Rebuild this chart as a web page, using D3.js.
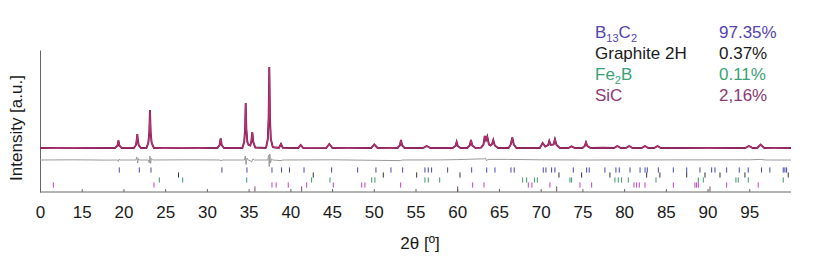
<!DOCTYPE html>
<html>
<head>
<meta charset="utf-8">
<script src="https://cdn.jsdelivr.net/npm/d3@7"></script>
<style>
  body { margin: 0; background: #fff; }
  svg text { font-family: "Liberation Sans", Arial, sans-serif; }
</style>
</head>
<body>
<svg id="chart" width="813" height="259"></svg>
<script>
// observed / calculated profile, [2theta, counts above background]
const profile = [
  [10,0],[12,10],[14,-10],[16,15],[18,0],
  [19.0,0],[19.28,220],[19.4,760],[19.52,220],[19.8,0],[20.6,15],
  [21.25,0],[21.5,300],[21.58,700],[21.66,1400],[21.74,700],[21.82,300],[22.1,0],
  [22.75,0],[22.98,500],[23.1,1600],[23.18,3800],[23.26,1600],[23.38,500],[23.65,0],
  [25,10],[27,-10],[29,10],[30.5,0],
  [31.25,0],[31.52,280],[31.65,960],[31.78,280],[32.05,0],[33.5,10],
  [34.25,0],[34.47,600],[34.58,1900],[34.65,4500],[34.73,1900],[34.85,600],[35.0,300],
  [35.2,250],[35.32,600],[35.44,1600],[35.56,600],[35.8,50],[36.5,20],[37.0,0],
  [37.1,50],[37.3,900],[37.4,3000],[37.48,8100],[37.56,3000],[37.66,900],[37.9,80],[38.4,30],
  [38.65,20],[38.88,400],[39.1,20],[40.2,0],
  [40.95,0],[41.24,300],[41.55,0],[43,-10],
  [44.3,0],[44.67,400],[45.05,0],[47,10],[49,0],
  [49.7,0],[50.06,350],[50.45,0],[52,10],
  [52.85,0],[53.12,250],[53.26,800],[53.4,250],[53.7,0],[55.5,0],
  [55.9,0],[56.34,200],[56.8,0],[58.5,0],
  [59.45,0],[59.8,200],[59.93,600],[60.06,200],[60.4,0],
  [61.2,0],[61.5,250],[61.65,800],[61.8,250],[62.2,0],
  [62.85,30],[63.15,350],[63.3,1200],[63.45,800],[63.6,1150],[63.8,350],[64.0,250],
  [64.18,400],[64.32,800],[64.5,250],[64.9,0],[65.8,0],
  [66.15,0],[66.42,350],[66.6,1050],[66.78,350],[67.1,0],[68.5,0],
  [69.9,0],[70.24,500],[70.55,150],[70.9,300],[71.03,700],[71.2,300],
  [71.55,350],[71.71,870],[71.9,300],[72.3,0],[73.3,0],
  [73.7,170],[74.1,0],[75.0,0],
  [75.28,200],[75.43,570],[75.6,200],[76.0,0],[77.5,20],[78.8,0],
  [79.18,200],[79.6,0],[80.2,0],[80.62,200],[81.0,0],
  [82.1,0],[82.5,200],[82.9,0],[83.6,0],[84.0,200],[84.4,0],
  [87,0],[90,10],[93,0],[94.5,0],[94.96,200],[95.4,0],
  [95.95,0],[96.36,350],[96.8,0],[98,10],[100,0]
];

// difference curve (obs - calc)
const diffCurve = [
  [10,0],[14,20],[18,-10],[19.3,0],[19.4,-150],[19.5,100],[19.6,0],
  [21.5,0],[21.6,300],[21.7,-300],[21.8,150],[21.9,0],
  [23.0,0],[23.1,-300],[23.18,400],[23.26,-350],[23.35,150],[23.5,0],
  [28,20],[31.6,0],[31.7,-100],[31.8,0],
  [34.5,0],[34.6,400],[34.7,-450],[34.8,200],[34.95,0],[35.4,-150],[35.5,100],[35.7,0],
  [37.3,0],[37.4,500],[37.47,-650],[37.55,600],[37.62,-300],[37.75,100],[37.9,0],
  [38.9,-60],[39.1,0],[45,20],[53.2,-60],[53.4,0],[58,10],[60,40],
  [63.3,120],[63.4,200],[63.5,-80],[63.7,60],[66,60],[70,20],[75,0],[85,10],[95,20],[96.3,60],[97,0],[100,0]
];

// reflection positions of the refined phases
const b13c2Ticks = [19.5,21.9,23.3,31.8,34.8,37.8,38.95,39.9,41.64,44.95,48.07,50.26,52.06,53.46,
  56.13,56.53,56.93,58.85,61.73,63.53,64.52,66.44,66.83,70.31,70.63,71.31,71.71,73.91,75.51,75.82,
  77.7,79.02,79.42,80.71,81.91,82.51,82.78,84.1,85.9,87.5,89.09,90.49,90.89,92.29,93.8,94.87,
  96.47,97.47,99.07,99.27,99.47];
const graphiteTicks = [26.6,42.75,51.14,55.14,60.33,72.19,74.91,78.3,82.7,84.29,87.5,89.69,91.49,94.48,99.67];
const fe2bTicks = [24.3,27.1,34.77,42.55,44.75,49.75,50.14,56.13,56.53,57.9,67.84,68.32,69.25,69.6,
  73.51,73.71,78.9,79.3,79.7,80.5,83.82,88.89,89.49,93.4,93.68,94.88,99.07];
const sicTicks = [11.6,23.66,37.8,38.3,39.75,41.96,45.15,48.55,48.94,53.22,61.85,63.21,68.52,68.95,
  71.11,74.71,76.11,81.18,81.5,81.82,82.5,85.9,88.49,88.69,88.89,92.29,96.07];
const sicLowTicks = [35.76,41.36,60.05,71.92,90.29];

const xTicks = [10,15,20,25,30,35,40,45,50,55,60,65,70,75,80,85,90,95];
const xTickLabels = ["0","15","20","25","30","35","40","45","50","55","60","65","70","75","80","85","90","95"];

const phaseNames = ["B|13|C|2", "Graphite 2H", "Fe|2|B", "SiC"];
const phaseFractions = ["97.35%", "0.37%", "0.11%", "2,16%"];
const phaseColors = ["#5443b0", "#1a1a1a", "#3aa374", "#8a3a70"];

const svg = d3.select('#chart');

const x = d3.scaleLinear().domain([10, 100]).range([40, 791]);
const y = d3.scaleLinear().domain([-4400, 9800]).range([192, 50]);

const DIFF_OFFSET = -1200;
const TICK_HALF = 260;

// axes
const xAxis = d3.axisBottom(x)
  .tickValues(xTicks)
  .tickSize(-3)
  .tickPadding(14)
  .tickFormat((d, i) => xTickLabels[i]);

const gx = svg.append('g')
  .attr('transform', `translate(0,${y(-4400)})`)
  .call(xAxis);
gx.select('.domain').attr('stroke', '#666').attr('d', `M${x(10)},0H${x(100)}`);
gx.selectAll('.tick line').attr('stroke', '#666');
gx.selectAll('.tick text')
  .attr('fill', '#1a1a1a')
  .style('font-size', '17px');

const gy = svg.append('g')
  .attr('transform', `translate(${x(10)},0)`)
  .call(d3.axisLeft(y).tickValues([]).tickSizeOuter(0));
gy.select('.domain').attr('stroke', '#666');

// profile
const line = d3.line().x(d => x(d[0])).y(d => y(d[1]));

svg.append('path')
  .datum(diffCurve.map(d => [d[0], d[1] + DIFF_OFFSET]))
  .attr('fill', 'none')
  .attr('stroke', '#9a9a9a')
  .attr('stroke-width', 1)
  .attr('d', line);

svg.append('path')
  .datum(profile)
  .attr('fill', 'none')
  .attr('stroke', '#5a2048')
  .attr('stroke-width', 1.9)
  .attr('d', line);

svg.append('path')
  .datum(profile)
  .attr('fill', 'none')
  .attr('stroke', '#c02c74')
  .attr('stroke-width', 1.2)
  .attr('d', line);

// reflection tick rows
const rows = [
  { ticks: b13c2Ticks,    level: -2200, color: '#4545b0' },
  { ticks: graphiteTicks, level: -2700, color: '#333' },
  { ticks: fe2bTicks,     level: -3200, color: '#3a9a6a' },
  { ticks: sicTicks,      level: -3700, color: '#c040c0' },
  { ticks: sicLowTicks,   level: -4100, color: '#7a4a6a' },
];

rows.forEach(r => {
  svg.append('g').selectAll('line')
    .data(r.ticks)
    .join('line')
      .attr('x1', d => x(d)).attr('x2', d => x(d))
      .attr('y1', y(r.level + TICK_HALF))
      .attr('y2', y(r.level - TICK_HALF))
      .attr('stroke', r.color)
      .attr('stroke-width', 1);
});

// axis titles
svg.append('text')
  .attr('x', 420).attr('y', 249)
  .attr('text-anchor', 'middle')
  .attr('fill', '#1a1a1a')
  .style('font-size', '17px')
  .text('2θ [º]');

svg.append('text')
  .attr('transform', 'translate(22,128) rotate(-90)')
  .attr('text-anchor', 'middle')
  .attr('fill', '#1a1a1a')
  .style('font-size', '17px')
  .text('Intensity [a.u.]');

// phase legend
const legend = svg.append('g');
phaseNames.forEach((name, i) => {
  const t = legend.append('text')
    .attr('x', 595).attr('y', 38 + i * 21)
    .attr('fill', phaseColors[i])
    .style('font-size', '17px');
  name.split('|').forEach((part, j) => {
    const sub = j % 2 === 1;
    t.append('tspan')
      .attr('dy', sub ? 4 : (j > 0 ? -4 : 0))
      .style('font-size', sub ? '11px' : '17px')
      .text(part);
  });
  legend.append('text')
    .attr('x', 719).attr('y', 38 + i * 21)
    .attr('fill', phaseColors[i])
    .style('font-size', '17px')
    .text(phaseFractions[i]);
});
</script>
</body>
</html>
